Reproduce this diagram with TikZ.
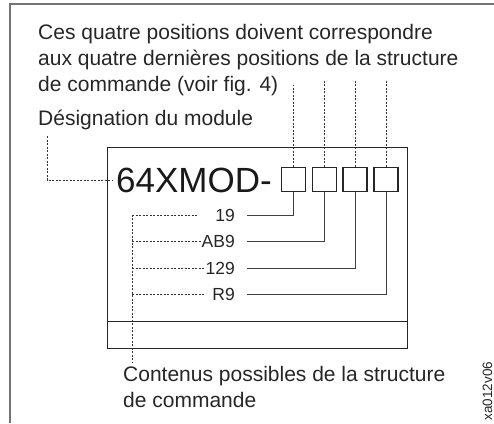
\documentclass[tikz,border=0pt]{standalone}
\usepackage{fontspec}
\setmainfont{Liberation Sans}
\begin{document}
\begin{tikzpicture}[x=1pt,y=-1pt,
  txt/.style={inner sep=0pt, text=black!85, font=\fontsize{21}{26}\selectfont, anchor=base west},
  lbl/.style={inner sep=0pt, text=black!85, font=\fontsize{17.5}{20}\selectfont, anchor=base east},
  posbox/.style={draw=black!85, line width=1.3pt, minimum width=24pt, minimum height=24pt, inner sep=0pt},
  dsh/.style={draw=black!80, line width=0.6pt, dash pattern=on 2pt off 1.5pt},
  sol/.style={draw=black!75, line width=0.9pt},
  framec/.style={draw=black!55, line width=1.2pt}]
\useasboundingbox (0,0) rectangle (494,423);
% outer frame (top and left only)
\coordinate (fr1) at (494,4);
\coordinate (fr2) at (10,4);
\coordinate (fr3) at (10,423);
\draw[framec] (fr1) -- (fr2) -- (fr3);
% inner panel
\node[draw=black!85, line width=1pt, minimum width=300pt, minimum height=201pt, inner sep=0pt] (panel) at (257,247.5) {};
\coordinate (divl) at (107,321);
\draw[draw=black!85, line width=1pt] (divl) -- (divl -| panel.east);
% texts
\node[txt] (t1) at (38,39) {Ces quatre positions doivent correspondre};
\node[txt] (t2) at (38,65.5) {aux quatre dernières positions de la structure};
\node[txt] (t3) at (38,91.5) {de commande (voir fig. 4)};
\node[txt] (desig) at (38,125) {Désignation du module};
\node[inner sep=0pt, text=black!90, font=\fontsize{35}{40}\selectfont, anchor=base west] (mod) at (116,192) {64XMOD-};
% position boxes
\node[posbox] (b1) at (293.5,179.5) {};
\node[posbox] (b2) at (324.5,179.5) {};
\node[posbox] (b3) at (355,179.5) {};
\node[posbox] (b4) at (386,179.5) {};
% labels
\node[lbl] (l1) at (235,221) {19};
\node[lbl] (l2) at (235,247.5) {AB9};
\node[lbl] (l3) at (235,274) {129};
\node[lbl] (l4) at (235,300.5) {R9};
% bottom texts
\node[txt] (c1) at (123,381) {Contenus possibles de la structure};
\node[txt] (c2) at (123,407) {de commande};
\node[inner sep=0pt, text=black!85, font=\fontsize{13.5}{16}\selectfont, rotate=90] (ref) at (487.5,391) {xa012v06};
% top dashed connectors
\coordinate (dtopa) at (0,85);
\coordinate (dtopb) at (0,81);
\draw[dsh] (b1.north) -- (b1.north |- dtopa);
\draw[dsh] (b2.north) -- (b2.north |- dtopb);
\draw[dsh] (b3.north) -- (b3.north |- dtopb);
\draw[dsh] (b4.north) -- (b4.north |- dtopb);
% designation connector
\coordinate (dstart) at (47,136);
\draw[dsh] (dstart) |- ([xshift=-3pt]mod.west);
% solid connectors
\draw[sol] ([xshift=12pt]l1.east) -| (b1.south);
\draw[sol] ([xshift=12pt]l2.east) -| (b2.south);
\draw[sol] ([xshift=12pt]l3.east) -| (b3.south);
\draw[sol] ([xshift=12pt]l4.east) -| (b4.south);
% left dashed connectors
\coordinate (vx) at (132,214);
\coordinate (e1) at (197,0);
\coordinate (e4) at (205,0);
\coordinate (cend) at ([yshift=3pt]c1.north);
\draw[dsh] (vx |- l1.east) -- (vx |- cend);
\draw[dsh] (vx |- l1.east) -- (e1 |- l1.east);
\draw[dsh] (vx |- l2.east) -- ([xshift=-1pt]l2.west);
\draw[dsh] (vx |- l3.east) -- ([xshift=-1pt]l3.west);
\draw[dsh] (vx |- l4.east) -- (e4 |- l4.east);
\end{tikzpicture}
\end{document}
